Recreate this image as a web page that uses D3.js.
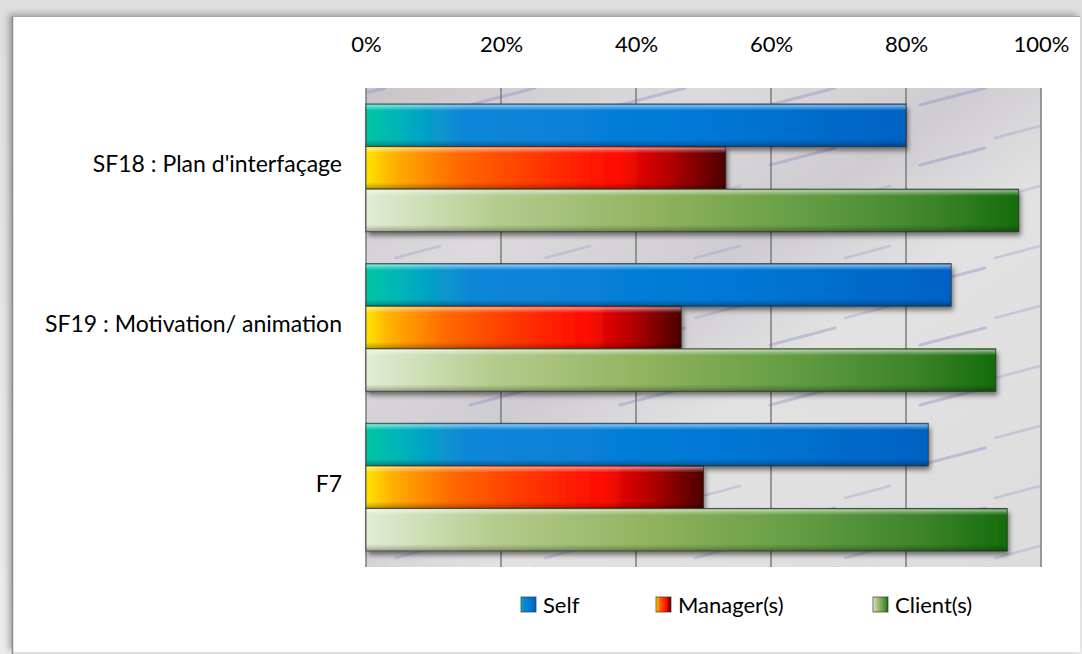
<!DOCTYPE html>
<html>
<head>
<meta charset="utf-8">
<script src="https://cdn.jsdelivr.net/npm/d3@7"></script>
<style>
  html, body { margin: 0; padding: 0; background: #ffffff; }
  svg { display: block; font-family: Lato, "Open Sans", sans-serif; }
</style>
</head>
<body>
<svg id="chart" width="1082" height="654"></svg>
<script>
// ---- data ----
const categories = ["SF18 : Plan d'interfaçage", "SF19 : Motivation/ animation", "F7"];
const seriesNames = ["Self", "Manager(s)", "Client(s)"];
const selfValues = [0.80, 0.867, 0.833];
const managerValues = [0.533, 0.467, 0.50];
const clientValues = [0.967, 0.933, 0.95];
const xTickValues = [0, 0.2, 0.4, 0.6, 0.8, 1.0];

const seriesValues = [selfValues, managerValues, clientValues];
const gradIds = ["gSelf", "gMgr", "gClient"];

const W = 1082, H = 654;
const svg = d3.select("#chart");
const defs = svg.append("defs");

// ---- gradients ----
function hGrad(id, stops) {
  const g = defs.append("linearGradient").attr("id", id)
    .attr("x1", "0%").attr("y1", "0%").attr("x2", "100%").attr("y2", "0%");
  stops.forEach(s => g.append("stop").attr("offset", s[0]).attr("stop-color", s[1]));
}
hGrad("gSelf", [["0%", "#00c6a4"], ["7%", "#03b0bc"], ["18%", "#0a86d8"], ["60%", "#0479d6"], ["100%", "#0062c2"]]);
hGrad("gMgr", [["0%", "#ffe400"], ["8%", "#ffae00"], ["25%", "#ff6a00"], ["50%", "#ff3200"], ["70%", "#ff0a00"], ["85%", "#b00000"], ["100%", "#4a0000"]]);
hGrad("gClient", [["0%", "#e2ecd4"], ["20%", "#b4cc8e"], ["45%", "#8fb25e"], ["70%", "#5f9a42"], ["88%", "#3a8228"], ["100%", "#156c0c"]]);

const vb = defs.append("linearGradient").attr("id", "bevel")
  .attr("x1", "0%").attr("y1", "0%").attr("x2", "0%").attr("y2", "100%");
[["0%", "#ffffff", 0.05], ["4%", "#ffffff", 0.5], ["10%", "#ffffff", 0.22], ["16%", "#ffffff", 0],
 ["84%", "#000000", 0], ["92%", "#000000", 0.14], ["100%", "#000000", 0.32]]
  .forEach(s => vb.append("stop").attr("offset", s[0]).attr("stop-color", s[1]).attr("stop-opacity", s[2]));

const outerG = defs.append("linearGradient").attr("id", "outer")
  .attr("x1", "0%").attr("y1", "0%").attr("x2", "0%").attr("y2", "100%");
outerG.append("stop").attr("offset", "0%").attr("stop-color", "#dedede");
outerG.append("stop").attr("offset", "100%").attr("stop-color", "#ececec");

const bgG = defs.append("linearGradient").attr("id", "plotbg")
  .attr("x1", "0%").attr("y1", "0%").attr("x2", "100%").attr("y2", "100%");
[["0%", "#c9c4c9"], ["25%", "#dcdadc"], ["45%", "#cfccd1"], ["60%", "#e2e2e2"], ["100%", "#dcdcdc"]]
  .forEach(s => bgG.append("stop").attr("offset", s[0]).attr("stop-color", s[1]));

const pat = defs.append("pattern").attr("id", "strokes").attr("patternUnits", "userSpaceOnUse")
  .attr("width", 150).attr("height", 60);
pat.append("line").attr("x1", 20).attr("y1", 45).attr("x2", 85).attr("y2", 28)
  .attr("stroke", "#8a8ac8").attr("stroke-width", 3).attr("stroke-linecap", "round").attr("opacity", 0.4);
pat.append("line").attr("x1", 95).attr("y1", 18).attr("x2", 140).attr("y2", 6)
  .attr("stroke", "#8a8ac8").attr("stroke-width", 2.5).attr("stroke-linecap", "round").attr("opacity", 0.3);

const sh = defs.append("filter").attr("id", "barShadow").attr("x", "-5%").attr("y", "-20%").attr("width", "115%").attr("height", "160%");
sh.append("feDropShadow").attr("dx", 2).attr("dy", 4).attr("stdDeviation", 2.5)
  .attr("flood-color", "#000").attr("flood-opacity", 0.5);

const cardSh = defs.append("filter").attr("id", "cardShadow").attr("x", "-3%").attr("y", "-3%").attr("width", "106%").attr("height", "106%");
cardSh.append("feDropShadow").attr("dx", -3).attr("dy", -2).attr("stdDeviation", 3)
  .attr("flood-color", "#000").attr("flood-opacity", 0.3);

// ---- page / card ----
svg.append("rect").attr("width", W).attr("height", H).attr("fill", "url(#outer)");
svg.append("rect").attr("x", 12).attr("y", 16).attr("width", 1068).attr("height", 636)
  .attr("fill", "#ffffff").attr("filter", "url(#cardShadow)");
svg.append("line").attr("x1", 12.5).attr("y1", 16).attr("x2", 12.5).attr("y2", 654)
  .attr("stroke", "#8c8c8c").attr("stroke-width", 1.5);
svg.append("line").attr("x1", 12).attr("y1", 16.5).attr("x2", 1080).attr("y2", 16.5)
  .attr("stroke", "#a6a6a6").attr("stroke-width", 1);

// ---- scales ----
const x = d3.scaleLinear().domain([0, 1]).range([366, 1041]);
const y = d3.scaleBand().domain(categories).range([88, 567]).paddingInner(0.2).paddingOuter(0.1);
const y1 = d3.scaleBand().domain(seriesNames).range([0, y.bandwidth()]).padding(0);

// plot background
svg.append("rect").attr("x", x(0)).attr("y", 88).attr("width", x(1) - x(0)).attr("height", 567 - 88)
  .attr("fill", "url(#plotbg)");
svg.append("rect").attr("x", x(0)).attr("y", 88).attr("width", x(1) - x(0)).attr("height", 567 - 88)
  .attr("fill", "url(#strokes)");

// gridlines
svg.append("g").selectAll("line").data(xTickValues).join("line")
  .attr("x1", d => x(d)).attr("x2", d => x(d)).attr("y1", 88).attr("y2", 567)
  .attr("stroke", "#7c7c7c").attr("stroke-width", 1.5);

// top axis
const xAxis = svg.append("g").attr("transform", "translate(0,88)")
  .call(d3.axisTop(x).tickValues(xTickValues).tickFormat(d3.format(".0%")).tickSize(0).tickPadding(36));
xAxis.select(".domain").remove();
xAxis.selectAll("text").attr("font-size", 22).attr("fill", "#000").attr("font-family", "Lato, sans-serif");

// left axis
const yAxis = svg.append("g").attr("transform", "translate(366,0)")
  .call(d3.axisLeft(y).tickSize(0).tickPadding(24));
yAxis.select(".domain").remove();
yAxis.selectAll("text").attr("font-size", 23).attr("fill", "#000").attr("dy", "0.2em").attr("font-family", "Lato, sans-serif");

// bars
const groups = svg.append("g").selectAll("g").data(categories).join("g")
  .attr("transform", c => `translate(0,${y(c)})`);

groups.each(function(c, ci) {
  const g = d3.select(this);
  seriesNames.forEach((s, si) => {
    const v = seriesValues[si][ci];
    const bx = x(0), by = y1(s), bw = x(v) - x(0), bh = y1.bandwidth();
    g.append("rect").attr("x", bx).attr("y", by).attr("width", bw).attr("height", bh)
      .attr("fill", `url(#${gradIds[si]})`).attr("filter", "url(#barShadow)");
    g.append("rect").attr("x", bx).attr("y", by).attr("width", bw).attr("height", bh)
      .attr("fill", "url(#bevel)").attr("stroke", "#2b2b2b").attr("stroke-opacity", 0.75).attr("stroke-width", 1);
  });
});

// legend
const legendOffsets = [0, 135, 352];
const legend = svg.append("g").attr("transform", "translate(521,605)");
seriesNames.forEach((s, si) => {
  const item = legend.append("g").attr("transform", `translate(${legendOffsets[si]},0)`);
  item.append("rect").attr("x", 0).attr("y", -8).attr("width", 15).attr("height", 15)
    .attr("fill", `url(#${gradIds[si]})`).attr("stroke", "#333").attr("stroke-opacity", 0.7);
  item.append("text").attr("x", 22).attr("y", 0).attr("dy", "0.35em")
    .attr("font-size", 22).attr("fill", "#000").text(s);
});
</script>
</body>
</html>
